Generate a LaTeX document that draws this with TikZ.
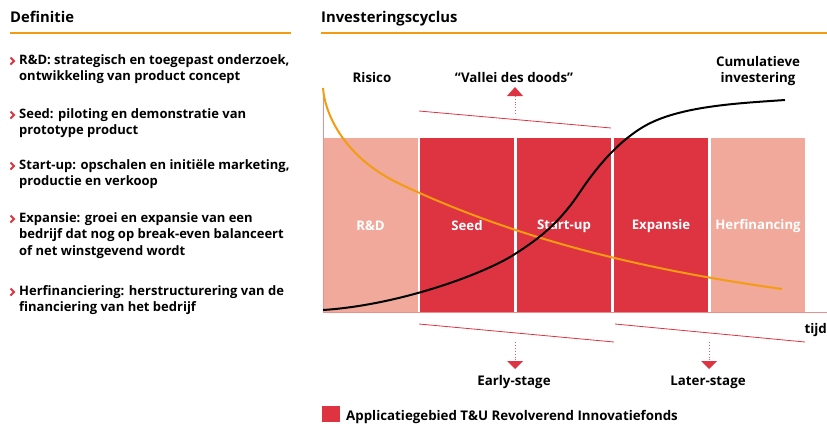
\documentclass[tikz,border=0pt]{standalone}
\usepackage{fontspec}
\setmainfont{Open Sans}
\definecolor{tured}{HTML}{DE3341}
\definecolor{salmon}{HTML}{F0A99A}
\definecolor{torange}{HTML}{F39C12}
\definecolor{axispink}{HTML}{E89090}
\newcommand{\para}[1]{\parbox[t]{320pt}{\raggedright\fontsize{13}{16.7}\selectfont\bfseries #1}}
\begin{document}
\begin{tikzpicture}[x=1pt,y=-1pt,
  head/.style={font=\fontsize{14.8}{18}\selectfont\bfseries, anchor=base west, inner sep=0},
  body/.style={anchor=base west, inner sep=0},
  chev/.style={draw=tured, line width=1.9pt, line join=miter},
  plabel/.style={font=\fontsize{13.2}{15}\selectfont\bfseries, text=white, inner sep=0},
  lbl/.style={font=\fontsize{13.3}{15}\selectfont\bfseries, inner sep=0, align=center},
  slant/.style={draw=tured, line width=0.8pt},
  dotarrow/.style={draw=tured!80, line width=0.9pt, dotted}
]
\useasboundingbox (0,0) rectangle (827,423);
% headers
\node[head] (hdef) at (10,23) {Definitie};
\node[head] (hinv) at (321,23) {Investeringscyclus};
\draw[torange, line width=2pt] (10,33) -- (291,33);
\draw[torange, line width=2pt] (321,33) -- (827,33);
% bullets
\foreach \y in {64,118,169,222,295} \draw[chev] (10.5,\y-6.5) -- (14,\y-3) -- (10.5,\y+0.5);
\node[body] (b1) at (19,64) {\para{R\&D: strategisch en toegepast onderzoek,\\ontwikkeling van product concept}};
\node[body] (b2) at (19,118) {\para{Seed: piloting en demonstratie van\\prototype product}};
\node[body] (b3) at (19,169) {\para{Start-up: opschalen en initiële marketing,\\productie en verkoop}};
\node[body] (b4) at (19,222) {\para{Expansie: groei en expansie van een\\bedrijf dat nog op break-even balanceert\\of net winstgevend wordt}};
\node[body] (b5) at (19,295) {\para{Herfinanciering: herstructurering van de\\financiering van het bedrijf}};
% phases
\fill[salmon] (323,138) rectangle (418,312);
\fill[tured] (420,138) rectangle (514,312);
\fill[tured] (517,138) rectangle (611,312);
\fill[tured] (614,138) rectangle (708,312);
\fill[salmon] (711,138) rectangle (805,312);
\node[plabel] (prd) at (370.5,226) {R\&D};
\node[plabel] (pseed) at (467,226) {Seed};
\node[plabel] (pstart) at (564,226) {Start-up};
\node[plabel] (pexp) at (661,226) {Expansie};
\node[plabel] (pherf) at (758,226) {Herfinancing};
% axes
\draw[axispink, line width=1pt] (323,88) -- (323,312) -- (827,312);
\node[lbl, anchor=base east] (tijd) at (827,333) {tijd};
% curves
\draw[torange, line width=2pt] (323,88) .. controls (325,115) and (345,158) .. (400,184)
  .. controls (510,236) and (632,268) .. (782,289);
\draw[black, line width=2pt] (323,310) .. controls (400,305) and (485,273.5) .. (515,254)
  .. controls (537,239.7) and (558,225) .. (580,192)
  .. controls (601,160.5) and (622,139.6) .. (643,127)
  .. controls (678,106) and (738,103.3) .. (785,100);
% top labels
\node[lbl, anchor=base] (risico) at (372,82) {Risico};
\node[lbl, anchor=base] (vallei) at (514,82) {“Vallei des doods”};
\node[lbl, anchor=base] (cum1) at (758,66) {Cumulatieve};
\node[lbl, anchor=base] (cum2) at (758,82) {investering};
% vallei line and arrow
\coordinate (v1) at (419,111);
\coordinate (v2) at (611,128);
\draw[slant] (v1) -- (v2);
\coordinate (vu0) at (515,114);
\coordinate (vu1) at (515,96);
\draw[dotarrow] (vu0) -- (vu1);
\fill[tured] (507,96) -- (515,87) -- (523,96) -- cycle;
% bottom lines
\coordinate (e1) at (419,324);
\coordinate (e2) at (614,342);
\coordinate (l1) at (615,324);
\coordinate (l2) at (805,342);
\draw[slant] (e1) -- (e2);
\draw[slant] (l1) -- (l2);
\draw[dotarrow] (515,342) -- (515,361);
\fill[tured] (507,361) -- (515,369) -- (523,361) -- cycle;
\draw[dotarrow] (709,342) -- (709,361);
\fill[tured] (701,361) -- (709,369) -- (717,361) -- cycle;
\node[lbl, anchor=base] (early) at (514,385) {Early-stage};
\node[lbl, anchor=base] (later) at (708,385) {Later-stage};
% legend
\fill[tured] (322,406) rectangle (340,422);
\node[lbl, anchor=base west] (leg) at (346,420) {Applicatiegebied T\&U Revolverend Innovatiefonds};
\end{tikzpicture}
\end{document}
